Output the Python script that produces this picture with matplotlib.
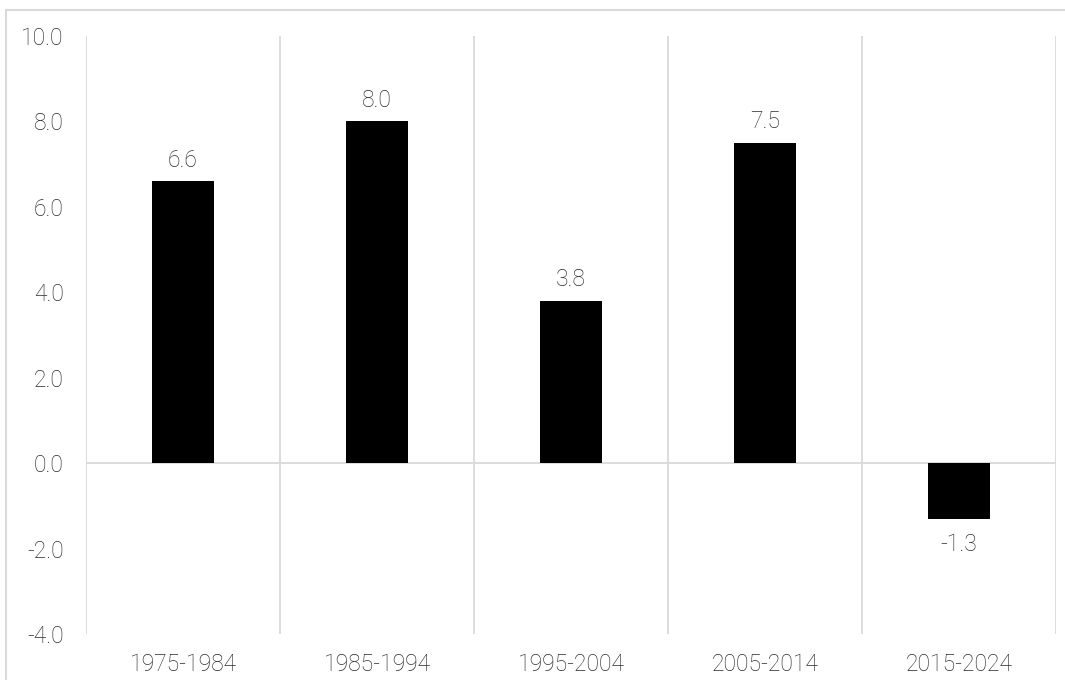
import matplotlib
matplotlib.use("Agg")
import matplotlib.pyplot as plt
from matplotlib.lines import Line2D

# Data
periods = ["1975-1984", "1985-1994", "1995-2004", "2005-2014", "2015-2024"]
values = [6.6, 8.0, 3.8, 7.5, -1.3]
y_ticks = [-4.0, -2.0, 0.0, 2.0, 4.0, 6.0, 8.0, 10.0]

C_TEXT = "#2b2b2b"
C_GRID = "#d9d9d9"

plt.rcParams["font.family"] = ["Roboto", "DejaVu Sans"]

fig = plt.figure(figsize=(10.65, 6.8), dpi=100)
ax = fig.add_axes([86 / 1065, 1 - 634 / 680, (1056 - 86) / 1065, (634 - 36) / 680])

x = list(range(len(periods)))
bars = ax.bar(x, values, width=0.315, color="black", zorder=3)

ax.set_xlim(-0.5, len(periods) - 0.5)
ax.set_ylim(-4, 10)
ax.set_yticks(y_ticks)
ax.set_yticklabels([f"{v:.1f}" for v in y_ticks])
ax.set_xticks(x)
ax.set_xticklabels(periods)
ax.set_xticks([i - 0.5 for i in range(len(periods) + 1)], minor=True)
ax.grid(which="minor", axis="x", color=C_GRID, lw=1.3, zorder=0)
ax.axhline(0, color=C_GRID, lw=1.3, zorder=1)

for s in ax.spines.values():
    s.set_visible(False)
ax.tick_params(axis="both", which="both", length=0, colors=C_TEXT, labelsize=16.5)
ax.tick_params(axis="y", pad=16)
ax.tick_params(axis="x", pad=14)
for lbl in ax.get_xticklabels() + ax.get_yticklabels():
    lbl.set_fontweight("light")

for xi, v in zip(x, values):
    off = 7 if v >= 0 else -10
    ax.annotate(f"{v:.1f}", (xi, v), xytext=(0, off), textcoords="offset points",
                ha="center", va="bottom" if v >= 0 else "top",
                fontsize=16.5, color=C_TEXT, fontweight="light")

# outer chart border (top and left visible in the crop)
fig.add_artist(Line2D([6 / 1065, 6 / 1065], [0, 1 - 10 / 680], color=C_GRID, lw=1.5,
                      transform=fig.transFigure))
fig.add_artist(Line2D([6 / 1065, 1], [1 - 10 / 680, 1 - 10 / 680], color=C_GRID, lw=1.5,
                      transform=fig.transFigure))

fig.savefig("out.png", dpi=100, facecolor="white")
